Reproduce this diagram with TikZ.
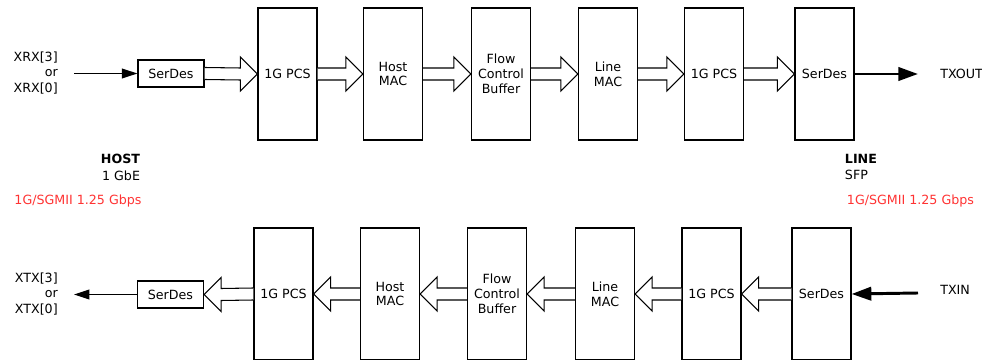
\documentclass[tikz,border=0pt]{standalone}
\usepackage{fontspec}
\setmainfont{DejaVu Sans}
\usetikzlibrary{calc, arrows.meta}
\definecolor{ratered}{RGB}{255,51,51}
\tikzset{
  blockbox/.style={draw, line width=0.9pt, minimum width=1.475cm, minimum height=3.3cm, align=center, inner sep=0pt},
  serbox/.style={draw, line width=0.9pt, minimum width=1.65cm, minimum height=0.675cm, inner sep=0pt},
  thinflow/.style={line width=0.9pt, -{Triangle[length=11pt,width=7pt]}},
  thickflow/.style={line width=2.1pt, -{Triangle[length=14pt,width=9.5pt]}},
  portlabel/.style={inner sep=0pt, font=\fontsize{9}{11}\selectfont},
}
% hollow data path arrow: tail anchor, tip anchor, head offset
\newcommand{\bigarrow}[3]{%
  \filldraw[fill=white, line width=0.75pt] ($(#1)+(0,-6)$) -- ($(#2)+(#3,-6)$) -- ++(0,-11) -- (#2)
    -- ($(#2)+(#3,17)$) -- ++(0,-11) -- ($(#1)+(0,6)$);}

\begin{document}
\begin{tikzpicture}[x=0.025cm, y=-0.025cm, font=\fontsize{9}{10.5}\selectfont]
  \useasboundingbox (0,0) rectangle (982,360);
  \clip (0,0) rectangle (982,359.5);
  % receive path (host to line)
  \node[serbox] (rxSerH) at (171,73.5) {SerDes};
  \node[blockbox] (rxPcsH) at (287.5,74) {1G PCS};
  \node[blockbox] (rxMacH) at (393,74) {Host\\MAC};
  \node[blockbox] (rxFcb) at (501,74) {Flow\\Control\\Buffer};
  \node[blockbox] (rxMacL) at (608,74) {Line\\MAC};
  \node[blockbox] (rxPcsL) at (714,74) {1G PCS};
  \node[blockbox] (rxSerL) at (824.5,74) {SerDes};
  \foreach \a/\b in {rxSerH/rxPcsH, rxPcsH/rxMacH, rxMacH/rxFcb, rxFcb/rxMacL, rxMacL/rxPcsL, rxPcsL/rxSerL}
    \bigarrow{\a.east}{\b.west}{-17};
  \node[portlabel, anchor=east, align=right] (xrx) at (58,73) {XRX[3]\\or\\XRX[0]};
  \coordinate (rxIn) at (74,73.5);
  \draw[thinflow] (rxIn) -- (rxSerH.west);
  \node[portlabel, anchor=west] (txout) at (940,74) {TXOUT};
  \coordinate (rxOut) at (918,74);
  \draw[thickflow] (rxSerL.east) -- (rxOut);
  % side labels
  \node[anchor=east, align=right, font=\fontsize{9}{12}\selectfont] (host) at (145,167) {\textbf{HOST}\\1 GbE};
  \node[text=ratered] (hostRate) at (78,201) {1G/SGMII 1.25 Gbps};
  \node[anchor=west, align=left, font=\fontsize{9}{12}\selectfont] (line) at (840,167) {\textbf{LINE}\\SFP};
  \node[text=ratered, anchor=west] (lineRate) at (842,201) {1G/SGMII 1.25 Gbps};
  % transmit path (line to host)
  \node[serbox] (txSerH) at (170.5,294.5) {SerDes};
  \node[blockbox] (txPcsH) at (283.5,294) {1G PCS};
  \node[blockbox] (txMacH) at (390,294) {Host\\MAC};
  \node[blockbox] (txFcb) at (497,294) {Flow\\Control\\Buffer};
  \node[blockbox] (txMacL) at (605,294) {Line\\MAC};
  \node[blockbox] (txPcsL) at (711.5,294) {1G PCS};
  \node[blockbox] (txSerL) at (821.5,294) {SerDes};
  \foreach \a/\b in {txSerH/txPcsH, txPcsH/txMacH, txMacH/txFcb, txFcb/txMacL, txMacL/txPcsL, txPcsL/txSerL}
    \bigarrow{\b.west}{\a.east}{17};
  \node[portlabel, anchor=east, align=right] (xtx) at (58,294) {XTX[3]\\or\\XTX[0]};
  \coordinate (txOut) at (74,294.5);
  \draw[thinflow] (txSerH.west) -- (txOut);
  \node[portlabel, anchor=west] (txin) at (940,290) {TXIN};
  \coordinate (txIn) at (918,293);
  \draw[thickflow] (txIn) -- (txSerL.east);
\end{tikzpicture}
\end{document}
